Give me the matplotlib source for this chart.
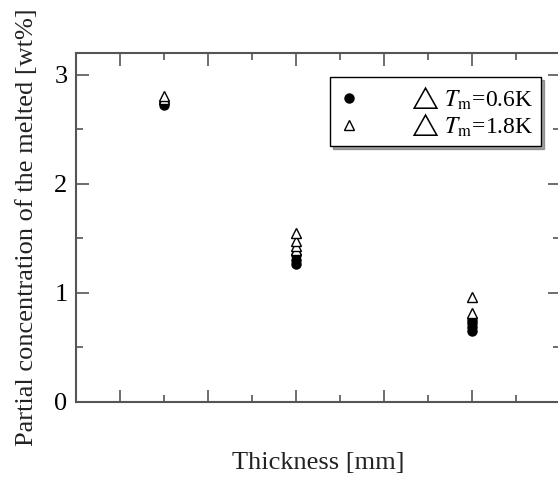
import numpy as np
import matplotlib.pyplot as plt
from matplotlib.ticker import MultipleLocator, NullFormatter

plt.rcParams['font.family'] = ['Liberation Serif', 'DejaVu Sans']
plt.rcParams['mathtext.fontset'] = 'stix'

# Data
x_06 = [3, 3, 6, 6, 6, 10, 10, 10, 10]
y_06 = [2.72, 2.75, 1.27, 1.30, 1.35, 0.65, 0.69, 0.72, 0.75]
x_18 = [3, 3, 6, 6, 6, 6, 10, 10]
y_18 = [2.78, 2.81, 1.39, 1.43, 1.48, 1.55, 0.82, 0.96]
labels = [r'$\triangle\,T_{\rm m}$=0.6K ', r'$\triangle\,T_{\rm m}$=1.8K ']

fig = plt.figure(figsize=(5.58, 4.92), dpi=100)
ax = fig.add_axes([0.136, 0.183, 0.868, 0.709])

ax.plot(x_06, y_06, 'o', color='black', markersize=6.5, label=labels[0], zorder=3)
ax.plot(x_18, y_18, '^', markerfacecolor='white', markeredgecolor='black',
        markeredgewidth=1.0, markersize=7, label=labels[1], zorder=4)

ax.set_xlim(1, 12)
ax.set_ylim(0, 3.2)
ax.xaxis.set_major_locator(MultipleLocator(2))
ax.xaxis.set_minor_locator(MultipleLocator(1))
ax.xaxis.set_major_formatter(NullFormatter())
ax.yaxis.set_major_locator(MultipleLocator(1))
ax.yaxis.set_minor_locator(MultipleLocator(0.5))
ax.tick_params(which='both', direction='in', top=True, right=True, color='#555555', width=1.2)
ax.tick_params(which='major', length=9, labelsize=19, pad=6)
ax.tick_params(which='minor', length=5)
for s in ax.spines.values():
    s.set_color('#555555')
    s.set_linewidth(1.5)

ax.set_xlabel('Thickness [mm]', fontsize=19, labelpad=30, color='#222222')
ax.set_ylabel('Partial concentration of the melted [wt%]', fontsize=19, labelpad=12, color='#222222')

leg = ax.legend(loc='upper right', bbox_to_anchor=(0.985, 0.965), fontsize=17, frameon=True,
                fancybox=False, shadow=True, handletextpad=2.0, borderpad=0.3,
                labelspacing=0.0, handlelength=1.0)
leg.get_frame().set_edgecolor('black')
leg.get_frame().set_linewidth(1.0)

fig.savefig('out.png', dpi=100)
